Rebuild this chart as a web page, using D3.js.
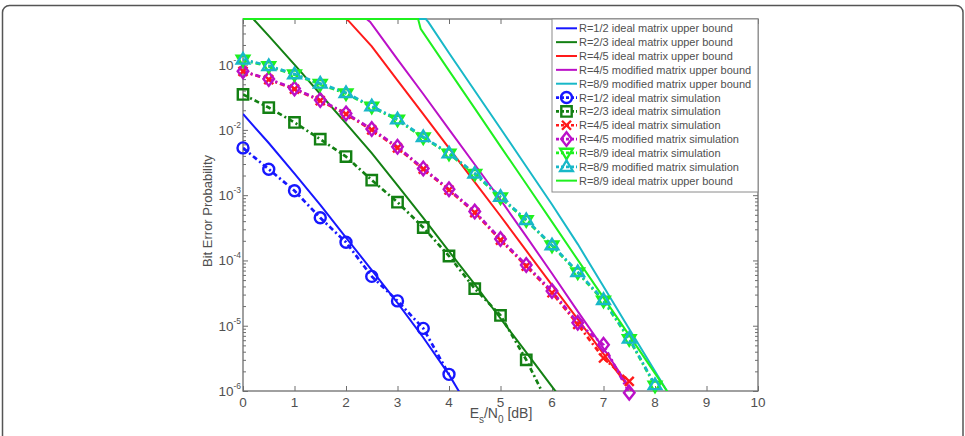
<!DOCTYPE html>
<html>
<head>
<meta charset="utf-8">
<script src="https://cdn.jsdelivr.net/npm/d3@7"></script>
<style>
  body { margin: 0; background: #fff; }
  text { font-family: "Liberation Sans", Arial, sans-serif; fill: #505050; }
</style>
</head>
<body>
<svg width="965" height="436"></svg>
<script>
// ---- data ----
const simX = [0, 0.5, 1, 1.5, 2, 2.5, 3, 3.5, 4, 4.5, 5, 5.5, 6, 6.5, 7, 7.5, 8];

const blueSim    = [5.3e-3, 2.5e-3, 1.17e-3, 4.5e-4, 1.9e-4, 5.7e-5, 2.4e-5, 9.1e-6, 1.8e-6];
const dkgreenSim = [3.5e-2, 2.2e-2, 1.3e-2, 7.2e-3, 3.9e-3, 1.7e-3, 7.8e-4, 3.2e-4, 1.17e-4, 3.7e-5, 1.44e-5, 3.0e-6, 4.8e-7];
const redSim     = [7.9e-2, 5.9e-2, 4.2e-2, 2.8e-2, 1.75e-2, 1.0e-2, 5.3e-3, 2.5e-3, 1.2e-3, 5.4e-4, 2.05e-4, 8.2e-5, 3.2e-5, 1.05e-5, 3.2e-6, 1.4e-6];
const magentaSim = [7.9e-2, 6.0e-2, 4.3e-2, 2.86e-2, 1.79e-2, 1.03e-2, 5.5e-3, 2.57e-3, 1.23e-3, 5.6e-4, 2.13e-4, 8.5e-5, 3.4e-5, 1.11e-5, 5.1e-6, 9.4e-7];
const greenSim   = [0.118, 0.094, 0.070, 0.050, 0.036, 0.0225, 0.0142, 7.6e-3, 4.3e-3, 2.1e-3, 9.2e-4, 4.1e-4, 1.68e-4, 6.5e-5, 2.4e-5, 6.2e-6, 1.2e-6];
const cyanSim    = [0.12, 0.096, 0.0716, 0.0515, 0.037, 0.0231, 0.0146, 7.8e-3, 4.4e-3, 2.16e-3, 9.5e-4, 4.2e-4, 1.72e-4, 6.7e-5, 2.5e-5, 6.4e-6, 1.24e-6];

const blueBoundX    = [0, 0.5, 1, 1.5, 2, 2.5, 3, 3.5, 4, 4.25];
const blueBound     = [1.75e-2, 6.3e-3, 2.14e-3, 7.1e-4, 2.24e-4, 7.1e-5, 2.24e-5, 6.6e-6, 1.78e-6, 8.3e-7];
const dkgreenBoundX = [0, 0.2, 0.5, 1, 1.5, 2, 2.5, 3, 3.5, 4, 4.5, 5, 5.5, 6, 6.5];
const dkgreenBound  = [0.5, 0.5, 0.275, 0.1, 3.55e-2, 1.26e-2, 4.4e-3, 1.41e-3, 4.5e-4, 1.38e-4, 4.3e-5, 1.29e-5, 3.9e-6, 1.17e-6, 3.5e-7];
const redBoundX     = [0, 2.0, 2.05, 2.5, 3, 3.5, 4, 4.5, 5, 5.5, 6, 6.5, 7, 7.5, 8];
const redBound      = [0.5, 0.5, 0.468, 0.19, 5.75e-2, 1.74e-2, 5.25e-3, 1.58e-3, 4.8e-4, 1.41e-4, 4.2e-5, 1.26e-5, 3.7e-6, 1.12e-6, 3.4e-7];
const magentaBoundX = [0, 2.4, 2.47, 3, 3.5, 4, 4.5, 5, 5.5, 6, 6.5, 7, 7.5, 8];
const magentaBound  = [0.5, 0.5, 0.452, 0.12, 3.55e-2, 1.02e-2, 2.95e-3, 8.5e-4, 2.34e-4, 6.3e-5, 1.66e-5, 4.5e-6, 1.15e-6, 2.95e-7];
const cyanBoundX    = [0, 3.55, 3.6, 4, 4.5, 5, 5.5, 6, 6.5, 7, 7.5, 8, 8.5];
const cyanBound     = [0.5, 0.5, 0.447, 0.151, 3.98e-2, 1.05e-2, 2.75e-3, 7.2e-4, 1.78e-4, 3.98e-5, 8.9e-6, 2.0e-6, 4.5e-7];
const greenBoundX   = [0, 3.4, 3.45, 4, 4.5, 5, 5.5, 6, 6.5, 7, 7.5, 8, 8.5];
const greenBound    = [0.5, 0.5, 0.355, 8.1e-2, 2.14e-2, 5.6e-3, 1.48e-3, 3.9e-4, 1.02e-4, 2.7e-5, 7.1e-6, 1.86e-6, 4.9e-7];

const xTicks = [0, 1, 2, 3, 4, 5, 6, 7, 8, 9, 10];
const yTicks = [1e-6, 1e-5, 1e-4, 1e-3, 1e-2, 1e-1];
const yTickExp = ['-6', '-5', '-4', '-3', '-2', '-1'];

const legendLabels = [
  'R=1/2 ideal matrix upper bound',
  'R=2/3 ideal matrix upper bound',
  'R=4/5 ideal matrix upper bound',
  'R=4/5 modified matrix upper bound',
  'R=8/9 modified matrix upper bound',
  'R=1/2 ideal matrix simulation',
  'R=2/3 ideal matrix simulation',
  'R=4/5 ideal matrix simulation',
  'R=4/5 modified matrix simulation',
  'R=8/9 ideal matrix simulation',
  'R=8/9 modified matrix simulation',
  'R=8/9 ideal matrix upper bound'
];

// colours
const cBlue = '#1717ff', cDkGreen = '#138013', cRed = '#ff1a1a',
      cMagenta = '#bb10c8', cCyan = '#18b8c8', cGreen = '#1ff01f';

// series in drawing (legend) order
const simDash = '5,3,2,3';
const series = [
  {x: blueBoundX, y: blueBound, color: cBlue, dash: null},
  {x: dkgreenBoundX, y: dkgreenBound, color: cDkGreen, dash: null},
  {x: redBoundX, y: redBound, color: cRed, dash: null},
  {x: magentaBoundX, y: magentaBound, color: cMagenta, dash: null},
  {x: cyanBoundX, y: cyanBound, color: cCyan, dash: null},
  {x: simX, y: blueSim, color: cBlue, dash: simDash, marker: 'circle'},
  {x: simX, y: dkgreenSim, color: cDkGreen, dash: simDash, marker: 'square'},
  {x: simX, y: redSim, color: cRed, dash: simDash, marker: 'x'},
  {x: simX, y: magentaSim, color: cMagenta, dash: simDash, marker: 'diamond'},
  {x: simX, y: greenSim, color: cGreen, dash: simDash, marker: 'tridown'},
  {x: simX, y: cyanSim, color: cCyan, dash: simDash, marker: 'triup'},
  {x: greenBoundX, y: greenBound, color: cGreen, dash: null}
];

const svg = d3.select('svg');

// outer rounded frame
svg.append('rect')
  .attr('x', 2.5).attr('y', 5.5)
  .attr('width', 960.5).attr('height', 450)
  .attr('rx', 7)
  .attr('fill', 'none')
  .attr('stroke', '#555')
  .attr('stroke-width', 1.5);

const pLeft = 243, pRight = 758, pTop = 19, pBottom = 391;
const x = d3.scaleLinear().domain([0, 10]).range([pLeft, pRight]);
const y = d3.scaleLog().domain([1e-6, 0.5]).range([pBottom, pTop]);

svg.append('clipPath').attr('id', 'plotclip')
  .append('rect')
  .attr('x', pLeft).attr('y', pTop - 2)
  .attr('width', pRight - pLeft).attr('height', pBottom - pTop + 2);

// axes (MATLAB style box, ticks inside)
const axisColor = '#6e6e6e';
const minorVals = [];
for (let e = -6; e <= -1; e++) {
  for (let m = 2; m <= 9; m++) {
    const v = m * Math.pow(10, e);
    if (v < 0.5 + 1e-9) minorVals.push(v);
  }
}

function styleAxis(g) {
  g.select('.domain').remove();
  g.selectAll('.tick line').attr('stroke', axisColor);
}

svg.append('g').attr('transform', `translate(0,${pBottom})`)
  .call(d3.axisBottom(x).tickValues(xTicks).tickSize(-5).tickFormat(''))
  .call(styleAxis);
svg.append('g').attr('transform', `translate(0,${pTop})`)
  .call(d3.axisTop(x).tickValues(xTicks).tickSize(-5).tickFormat(''))
  .call(styleAxis);
svg.append('g').attr('transform', `translate(${pLeft},0)`)
  .call(d3.axisLeft(y).tickValues(yTicks).tickSize(-5).tickFormat(''))
  .call(styleAxis);
svg.append('g').attr('transform', `translate(${pRight},0)`)
  .call(d3.axisRight(y).tickValues(yTicks).tickSize(-5).tickFormat(''))
  .call(styleAxis);
svg.append('g').attr('transform', `translate(${pLeft},0)`)
  .call(d3.axisLeft(y).tickValues(minorVals).tickSize(-3).tickFormat(''))
  .call(styleAxis);
svg.append('g').attr('transform', `translate(${pRight},0)`)
  .call(d3.axisRight(y).tickValues(minorVals).tickSize(-3).tickFormat(''))
  .call(styleAxis);

svg.append('rect')
  .attr('x', pLeft).attr('y', pTop)
  .attr('width', pRight - pLeft).attr('height', pBottom - pTop)
  .attr('fill', 'none')
  .attr('stroke', axisColor)
  .attr('stroke-width', 1.3);

// tick labels
svg.append('g').selectAll('text').data(xTicks).join('text')
  .attr('x', d => x(d))
  .attr('y', pBottom + 16)
  .attr('text-anchor', 'middle')
  .attr('font-size', 13.5)
  .text(d => d);

const yLab = svg.append('g').selectAll('text').data(yTicks).join('text')
  .attr('x', pLeft - 2)
  .attr('y', d => y(d) + 5)
  .attr('text-anchor', 'end')
  .attr('font-size', 13.5);
yLab.append('tspan').text('10');
yLab.append('tspan').attr('dy', -7).attr('font-size', 8.5).text((d, i) => yTickExp[i]);

// axis titles
const xt = svg.append('text')
  .attr('x', 501).attr('y', 418)
  .attr('text-anchor', 'middle')
  .attr('font-size', 14);
xt.append('tspan').text('E');
xt.append('tspan').attr('dy', 5).attr('font-size', 10).text('s');
xt.append('tspan').attr('dy', -5).text('/N');
xt.append('tspan').attr('dy', 5).attr('font-size', 10).text('0');
xt.append('tspan').attr('dy', -5).text(' [dB]');

svg.append('text')
  .attr('transform', 'translate(212,211) rotate(-90)')
  .attr('text-anchor', 'middle')
  .attr('font-size', 13)
  .text('Bit Error Probability');

// markers
function markerPath(type) {
  switch (type) {
    case 'circle': return d3.arc()({innerRadius: 0, outerRadius: 5.5, startAngle: 0, endAngle: 2 * Math.PI});
    case 'square': return 'M-5.2,-5.2H5.2V5.2H-5.2Z';
    case 'x': return 'M-4.5,-4.5L4.5,4.5M-4.5,4.5L4.5,-4.5';
    case 'diamond': return 'M0,-6.8L5.3,0L0,6.8L-5.3,0Z';
    case 'tridown': return 'M-6.3,-4.2L6.3,-4.2L0,6.3Z';
    case 'triup': return 'M-6.3,4.2L6.3,4.2L0,-6.3Z';
  }
  return '';
}

const plot = svg.append('g');
const lineClip = plot.append('g').attr('clip-path', 'url(#plotclip)');

series.forEach(s => {
  const pts = s.y.map((v, i) => [s.x[i], v]);
  const line = d3.line().x(d => x(d[0])).y(d => y(d[1]));
  lineClip.append('path')
    .attr('d', line(pts))
    .attr('fill', 'none')
    .attr('stroke', s.color)
    .attr('stroke-width', s.dash ? 2.7 : 2)
    .attr('stroke-dasharray', s.dash);
  if (s.marker) {
    plot.append('g').selectAll('path')
      .data(pts.filter(d => d[1] >= 9e-7))
      .join('path')
      .attr('transform', d => `translate(${x(d[0])},${y(d[1])})`)
      .attr('d', markerPath(s.marker))
      .attr('fill', 'none')
      .attr('stroke', s.color)
      .attr('stroke-width', 2.4);
  }
});

// legend
const lg = svg.append('g');
lg.append('rect')
  .attr('x', 552).attr('y', pTop)
  .attr('width', pRight - 552).attr('height', 173)
  .attr('fill', '#fff')
  .attr('stroke', '#8a8a8a')
  .attr('stroke-width', 1);

series.forEach((s, i) => {
  const ly = 28.3 + i * 13.85;
  lg.append('line')
    .attr('x1', 556).attr('x2', 577)
    .attr('y1', ly).attr('y2', ly)
    .attr('stroke', s.color)
    .attr('stroke-width', s.dash ? 2.7 : 2)
    .attr('stroke-dasharray', s.dash ? '3,2' : null);
  if (s.marker) {
    lg.append('path')
      .attr('transform', `translate(566.5,${ly})`)
      .attr('d', markerPath(s.marker))
      .attr('fill', 'none')
      .attr('stroke', s.color)
      .attr('stroke-width', 2.4);
  }
  lg.append('text')
    .attr('x', 579).attr('y', ly + 4)
    .attr('font-size', 11)
    .text(legendLabels[i]);
});
</script>
</body>
</html>
